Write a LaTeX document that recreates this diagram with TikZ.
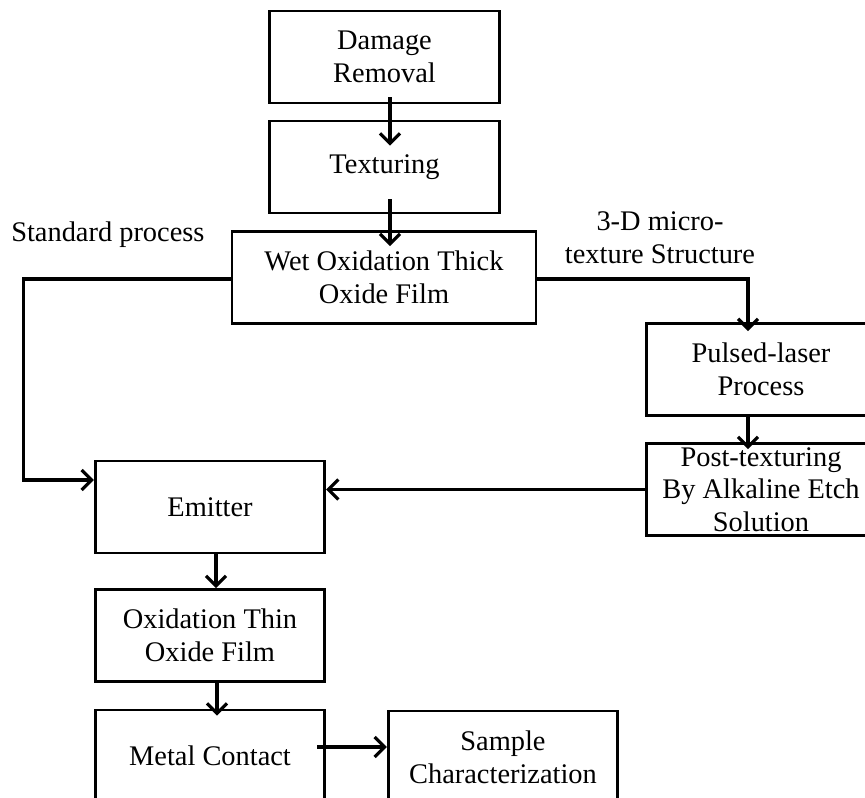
\documentclass[tikz,border=0pt]{standalone}
\usepackage{fontspec}
\setmainfont{Liberation Serif}
\usetikzlibrary{arrows.meta,calc}
\begin{document}
\begin{tikzpicture}[
  x=0.75pt,
  y=-0.75pt,
  font=\fontsize{21.3}{24.5}\selectfont,
  stepbox/.style={draw=black,line width=2.2pt,minimum width=172pt,minimum height=69pt,inner sep=0pt,align=center},
  flow/.style={draw=black,line width=2.4pt,-{Straight Barb[length=7.5pt,width=15pt]}},
  note/.style={inner sep=0pt,align=center}
]
  \path[use as bounding box,clip] (0,0) rectangle (865,798);

  \node[stepbox] (dmg) at (384.5,57) {Damage\\Removal};
  \node[stepbox] (tex) at (384.5,167) {Texturing};
  \node[stepbox,minimum width=228pt] (wet) at (384,277.5) {Wet Oxidation Thick\\Oxide Film};
  \node[stepbox] (laser) at (761,369.5) {Pulsed-laser\\Process};
  \node[stepbox] (post) at (761,489.5) {Post-texturing\\By Alkaline Etch\\Solution};
  \node[stepbox] (emit) at (210,507) {Emitter};
  \node[stepbox] (thin) at (210,635.5) {Oxidation Thin\\Oxide Film};
  \node[stepbox] (metal) at (210,756) {Metal Contact};
  \node[stepbox] (sample) at (503,757) {Sample\\Characterization};

  \node[note,anchor=base west] (stdlbl) at (11,242) {Standard process};
  \node[note] (microlbl) at (660,238) {3-D micro-\\texture Structure};

  \draw[flow] ($(dmg.south)+(5.5,-7)$) -- ($(tex.north)+(5.5,26)$);
  \draw[flow] ($(tex.south)+(5.5,-15)$) -- ($(wet.north)+(6,16)$);
  \draw[flow] ($(wet.east)+(0,1.5)$) -| ($(laser.north)+(-13,9)$);
  \draw[flow] ($(laser.south)+(-13,0)$) -- ($(post.north)+(-13,7)$);
  \draw[flow] (post.west) -- (emit.east |- post.west);
  \draw[flow] ($(wet.west)+(0,1.5)$) -| ($(emit.west)+(-70,-27)$) -- ($(emit.west)+(0,-27)$);
  \draw[flow] ($(emit.south)+(6,0)$) -- ($(thin.north)+(6,0)$);
  \draw[flow] ($(thin.south)+(7,0)$) -- ($(metal.north)+(7,7)$);
  \draw[flow] ($(metal.east)+(-9,-9)$) -- ($(sample.west)+(0,-10)$);
\end{tikzpicture}
\end{document}
